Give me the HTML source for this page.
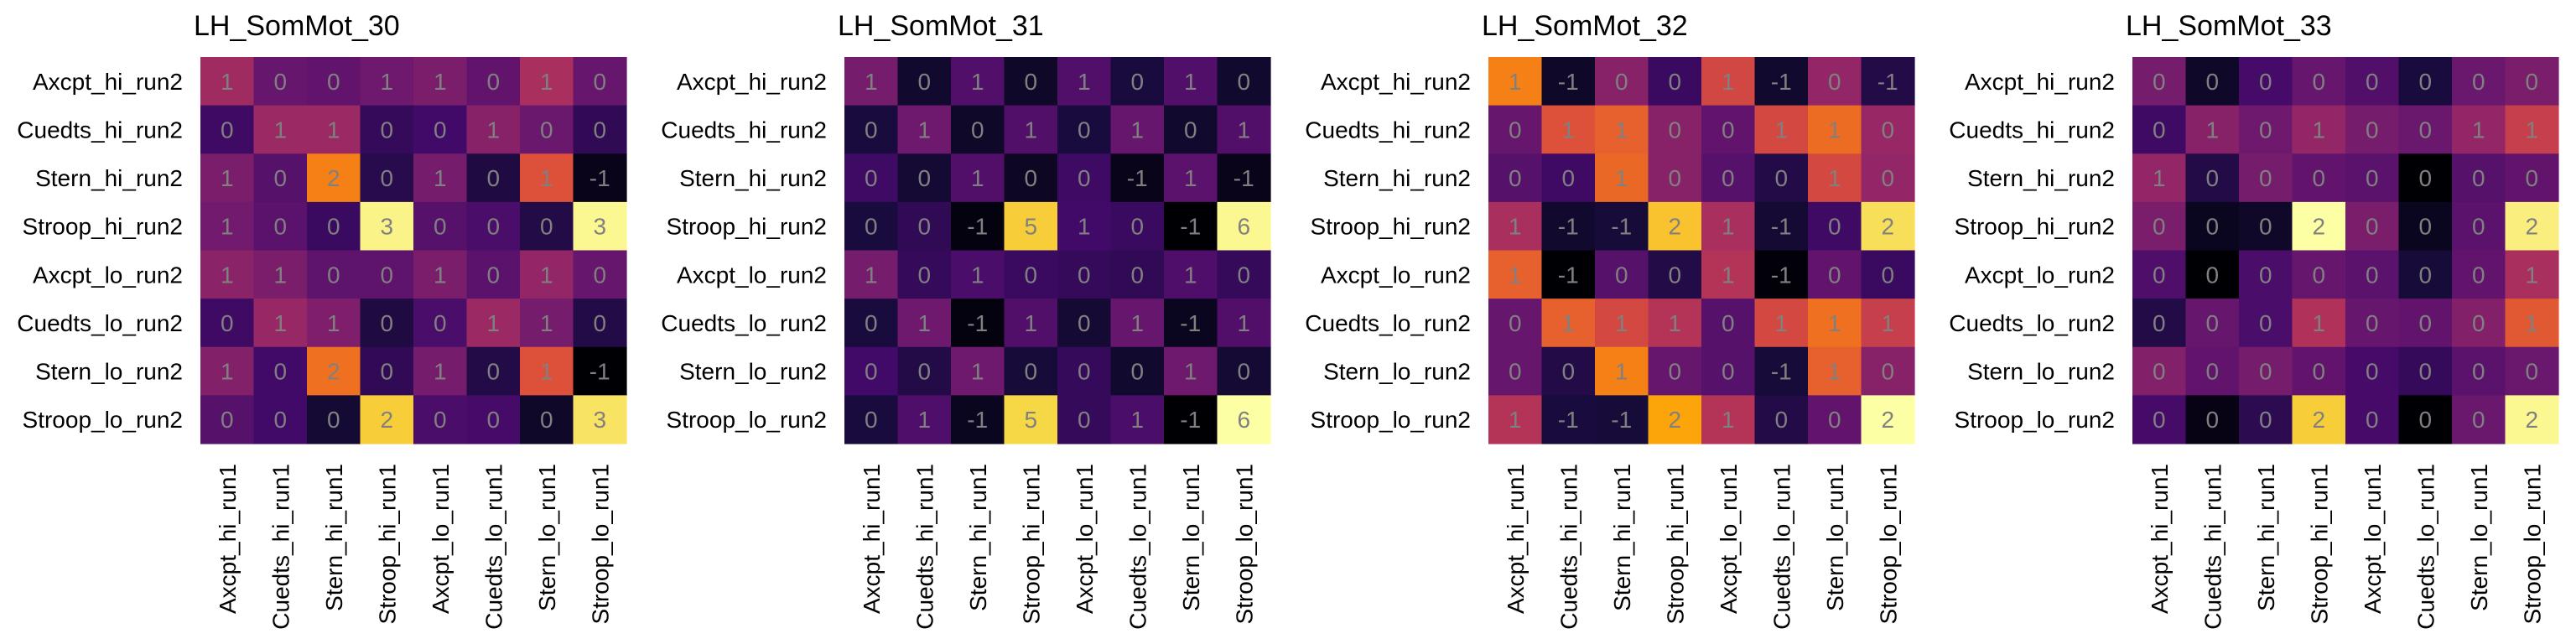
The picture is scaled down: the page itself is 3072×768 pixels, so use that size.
<!DOCTYPE html>
<html><head><meta charset="utf-8"><style>
html,body{margin:0;padding:0;background:#fff;}
svg{display:block;}
text{font-family:"Liberation Sans",Arial,sans-serif;}
</style></head><body>
<svg id="chart" width="3072" height="768" viewBox="0 0 3072 768" xmlns="http://www.w3.org/2000/svg"></svg>
<script>
const panelTitles = ["LH_SomMot_30","LH_SomMot_31","LH_SomMot_32","LH_SomMot_33"];
const rowLabels = ["Axcpt_hi_run2","Cuedts_hi_run2","Stern_hi_run2","Stroop_hi_run2","Axcpt_lo_run2","Cuedts_lo_run2","Stern_lo_run2","Stroop_lo_run2"];
const colLabels = ["Axcpt_hi_run1","Cuedts_hi_run1","Stern_hi_run1","Stroop_hi_run1","Axcpt_lo_run1","Cuedts_lo_run1","Stern_lo_run1","Stroop_lo_run1"];
// normalized colour-scale values (0 = min, 1 = max of each panel)
const colorVals30 = [
[.43,.29,.28,.31,.34,.28,.45,.29],
[.19,.42,.42,.17,.20,.37,.30,.16],
[.34,.25,.72,.14,.33,.12,.60,.04],
[.32,.26,.18,.97,.25,.22,.13,.98],
[.38,.34,.27,.27,.34,.26,.40,.29],
[.19,.41,.35,.12,.22,.42,.33,.13],
[.36,.20,.68,.16,.33,.13,.60,.00],
[.25,.20,.09,.88,.22,.21,.07,.93]];
const colorVals31 = [
[.33,.08,.24,.07,.24,.11,.24,.08],
[.11,.31,.07,.24,.11,.29,.08,.24],
[.19,.09,.24,.06,.19,.04,.26,.04],
[.11,.16,.02,.88,.20,.18,.00,.98],
[.33,.17,.22,.18,.17,.16,.23,.17],
[.11,.31,.02,.24,.09,.29,.05,.24],
[.20,.13,.31,.10,.17,.08,.31,.09],
[.11,.23,.05,.90,.17,.22,.00,1.0]];
const colorVals32 = [
[.72,.07,.37,.18,.56,.08,.40,.13],
[.29,.60,.64,.37,.28,.57,.67,.41],
[.25,.19,.66,.37,.25,.13,.57,.40],
[.45,.08,.10,.86,.45,.09,.19,.92],
[.64,.00,.25,.13,.48,.01,.28,.18],
[.29,.64,.57,.48,.25,.57,.68,.53],
[.29,.13,.72,.29,.25,.10,.64,.37],
[.48,.11,.10,.80,.48,.13,.28,1.0]];
const colorVals33 = [
[.33,.07,.21,.29,.24,.11,.30,.34],
[.19,.37,.31,.40,.33,.30,.40,.53],
[.40,.13,.33,.28,.26,.00,.25,.28],
[.34,.05,.07,1.0,.34,.05,.26,.96],
[.23,.00,.22,.29,.26,.10,.28,.45],
[.13,.29,.22,.47,.29,.28,.36,.62],
[.36,.28,.33,.28,.21,.17,.26,.30],
[.21,.03,.15,.88,.21,.00,.30,.98]];
const labels30 = [
[1,0,0,1,1,0,1,0],[0,1,1,0,0,1,0,0],[1,0,2,0,1,0,1,-1],[1,0,0,3,0,0,0,3],
[1,1,0,0,1,0,1,0],[0,1,1,0,0,1,1,0],[1,0,2,0,1,0,1,-1],[0,0,0,2,0,0,0,3]];
const labels31 = [
[1,0,1,0,1,0,1,0],[0,1,0,1,0,1,0,1],[0,0,1,0,0,-1,1,-1],[0,0,-1,5,1,0,-1,6],
[1,0,1,0,0,0,1,0],[0,1,-1,1,0,1,-1,1],[0,0,1,0,0,0,1,0],[0,1,-1,5,0,1,-1,6]];
const labels32 = [
[1,-1,0,0,1,-1,0,-1],[0,1,1,0,0,1,1,0],[0,0,1,0,0,0,1,0],[1,-1,-1,2,1,-1,0,2],
[1,-1,0,0,1,-1,0,0],[0,1,1,1,0,1,1,1],[0,0,1,0,0,-1,1,0],[1,-1,-1,2,1,0,0,2]];
const labels33 = [
[0,0,0,0,0,0,0,0],[0,1,0,1,0,0,1,1],[1,0,0,0,0,0,0,0],[0,0,0,2,0,0,0,2],
[0,0,0,0,0,0,0,1],[0,0,0,1,0,0,0,1],[0,0,0,0,0,0,0,0],[0,0,0,2,0,0,0,2]];
const panelColors = [colorVals30,colorVals31,colorVals32,colorVals33];
const panelLabels = [labels30,labels31,labels32,labels33];

const NS="http://www.w3.org/2000/svg";
const svg=document.getElementById('chart');
const INF=["#000004","#160b39","#420a68","#6a176e","#932667","#bc3754","#dd513a","#f37819","#fca50a","#f6d746","#fcffa4"];
function hex(h){return [1,3,5].map(i=>parseInt(h.substr(i,2),16));}
function inferno(t){t=Math.max(0,Math.min(1,t));const p=t*10,i=Math.min(9,Math.floor(p)),f=p-i;
 const a=hex(INF[i]),b=hex(INF[i+1]);return 'rgb('+a.map((v,k)=>Math.round(v+(b[k]-v)*f)).join(',')+')';}
function mk(tag,attrs,parent){const e=document.createElementNS(NS,tag);for(const k in attrs)e.setAttribute(k,attrs[k]);parent.appendChild(e);return e;}
const panelX0=239,panelStep=768,top0=68,gridW=508,gridH=461;
const cw=gridW/colLabels.length, ch=gridH/rowLabels.length;
panelTitles.forEach((title,p)=>{
 const x0=panelX0+p*panelStep;
 const g=mk('g',{},svg);
 
 
 const t=mk('text',{x:x0-8,y:42,'font-size':34,fill:'#000'},g);
 t.textContent=title;
 
 
 const cv=panelColors[p], lb=panelLabels[p];
 rowLabels.forEach((r,i)=>{
  const cy=top0+i*ch+ch/2;
  const yl=mk('text',{x:x0-21,y:cy+10,'font-size':28,'text-anchor':'end',fill:'#000'},g);
  yl.textContent=r;
  
  
  colLabels.forEach((c,j)=>{
   const rc=mk('rect',{x:x0+j*cw,y:top0+i*ch,width:cw+0.6,height:ch+0.6,fill:inferno(cv[i][j])},g);
   
   
   const tx=mk('text',{x:x0+j*cw+cw/2,y:cy+10,'font-size':28,'text-anchor':'middle',fill:'#808080'},g);
   tx.textContent=String(lb[i][j]);
   
   
  });
 });
 colLabels.forEach((c,j)=>{
  const cx=x0+j*cw+cw/2+10, y=top0+gridH+24;
  const xl=mk('text',{x:cx,y:y,'font-size':28,'text-anchor':'end',fill:'#000',transform:'rotate(-90 '+cx+' '+y+')'},g);
  xl.textContent=c;
  
  
 });
});
</script>
</body></html>
